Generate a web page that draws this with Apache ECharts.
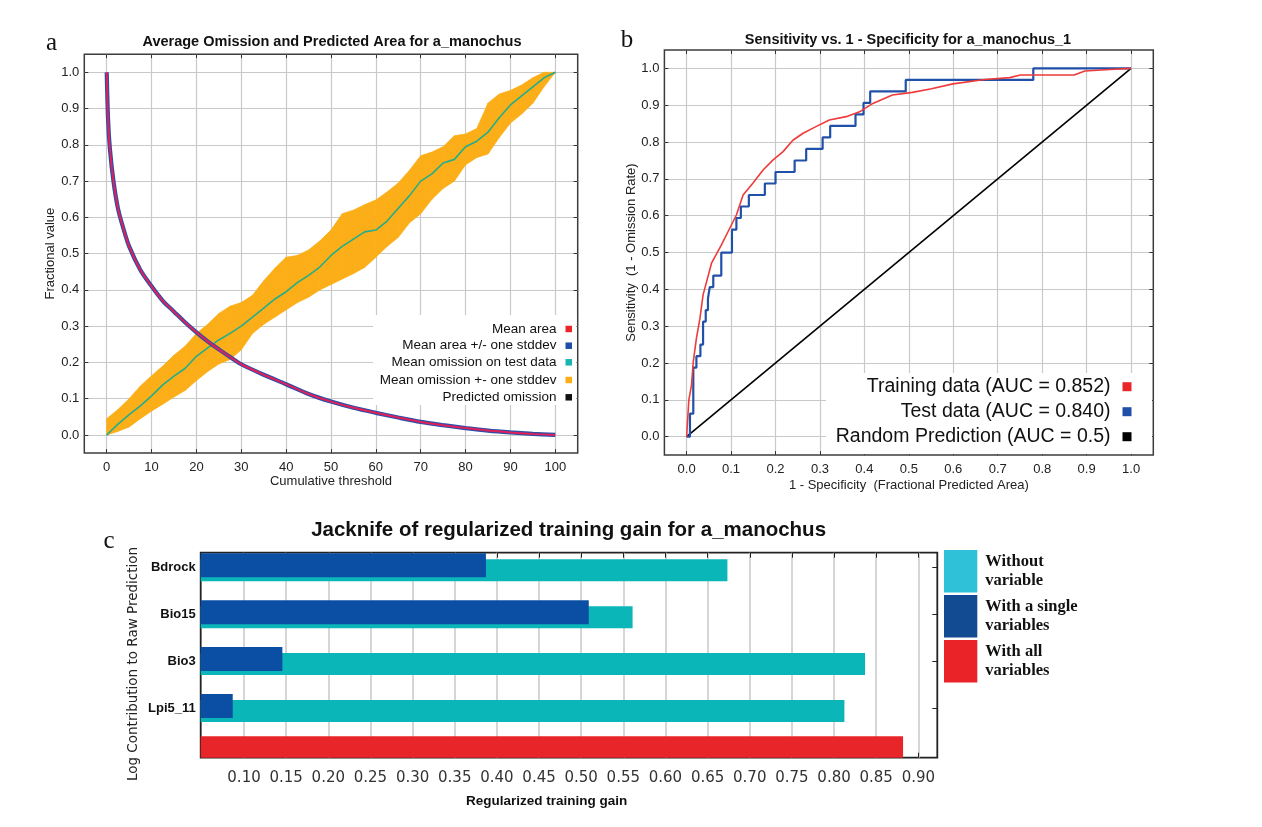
<!DOCTYPE html>
<html><head><meta charset="utf-8">
<script src="https://cdn.jsdelivr.net/npm/echarts@6/dist/echarts.min.js"></script>
<style>html,body{margin:0;padding:0;background:#fff}#c{width:1262px;height:827px}</style>
</head><body><div id="c"></div>
<script>
// ---------- Panel a : Average omission and predicted area ----------
const aThreshold = [0,2.5,5,7.5,10,12.5,15,17.5,20,22.5,25,27.5,30,32.5,35,37.5,40,42.5,45,47.5,50,52.5,55,57.5,60,62.5,65,67.5,70,72.5,75,77.5,80,82.5,85,87.5,90,92.5,95,97.5,100];
const aOmissionMean  = [0,0.03,0.056,0.08,0.108,0.138,0.162,0.184,0.217,0.24,0.262,0.28,0.30,0.325,0.35,0.375,0.395,0.42,0.44,0.463,0.495,0.52,0.54,0.56,0.565,0.59,0.625,0.66,0.70,0.72,0.75,0.76,0.795,0.81,0.835,0.875,0.91,0.935,0.96,0.985,1.0];
const aOmissionUpper = [0.045,0.07,0.10,0.135,0.163,0.19,0.22,0.245,0.28,0.305,0.335,0.355,0.365,0.385,0.425,0.46,0.49,0.495,0.51,0.535,0.565,0.61,0.62,0.635,0.648,0.67,0.695,0.73,0.77,0.78,0.795,0.825,0.83,0.845,0.915,0.94,0.95,0.965,0.985,1.0,1.0];
const aOmissionLower = [0,0.01,0.022,0.045,0.066,0.085,0.105,0.123,0.15,0.175,0.196,0.208,0.235,0.28,0.305,0.325,0.345,0.365,0.38,0.40,0.415,0.43,0.445,0.462,0.49,0.52,0.545,0.585,0.61,0.65,0.68,0.70,0.745,0.765,0.775,0.82,0.86,0.885,0.915,0.96,1.0];
const aAreaX = [0,0.3,0.7,1.5,2.5,3.7,5,7.5,10,12.5,15,17.5,20,22.5,25,27.5,30,35,40,45,50,55,60,65,70,75,80,85,90,95,100];
const aAreaY = [1.0,0.87,0.79,0.70,0.625,0.57,0.52,0.455,0.41,0.37,0.34,0.31,0.283,0.258,0.236,0.215,0.195,0.166,0.14,0.113,0.092,0.075,0.061,0.048,0.036,0.027,0.019,0.012,0.007,0.003,0.0];
const aPredX = [0,100];
const aPredY = [0,1];
const aXTicks = [0,10,20,30,40,50,60,70,80,90,100];
const aYTicks = [0,0.1,0.2,0.3,0.4,0.5,0.6,0.7,0.8,0.9,1.0];

// ---------- Panel b : ROC ----------
const bTrainX = [0,0.005,0.011,0.015,0.022,0.030,0.037,0.045,0.056,0.078,0.097,0.112,0.127,0.149,0.172,0.194,0.217,0.239,0.262,0.291,0.321,0.359,0.389,0.419,0.463,0.508,0.551,0.599,0.671,0.727,0.751,0.872,0.896,0.952,1.0];
const bTrainY = [0,0.1,0.14,0.204,0.267,0.321,0.385,0.421,0.471,0.52,0.566,0.602,0.656,0.688,0.724,0.751,0.774,0.805,0.824,0.842,0.86,0.869,0.882,0.905,0.928,0.935,0.945,0.958,0.970,0.975,0.982,0.982,0.993,0.997,1.0];
const bTestX = [0,0.0075,0.015,0.022,0.031,0.037,0.043,0.048,0.052,0.06,0.078,0.102,0.112,0.122,0.14,0.176,0.2,0.243,0.269,0.306,0.323,0.38,0.398,0.413,0.493,0.78,1.0];
const bTestY = [0,0.0625,0.1875,0.21875,0.25,0.3125,0.34375,0.375,0.40625,0.4375,0.5,0.5625,0.59375,0.625,0.65625,0.6875,0.71875,0.75,0.78125,0.8125,0.84375,0.875,0.90625,0.9375,0.96875,1.0,1.0];
const bRandX = [0,1];
const bRandY = [0,1];
const bTicks = [0,0.1,0.2,0.3,0.4,0.5,0.6,0.7,0.8,0.9,1.0];

// ---------- Panel c : Jackknife ----------
const cVariables = ['Bdrock','Bio15','Bio3','Lpi5_11'];
const cWithout   = [0.6735,0.561,0.8368,0.8123];
const cWithOnly  = [0.387,0.509,0.1455,0.0866];
const cWithAll   = [0.8819];
const cXTicks = [0.10,0.15,0.20,0.25,0.30,0.35,0.40,0.45,0.50,0.55,0.60,0.65,0.70,0.75,0.80,0.85,0.90];

const zip = (xs, ys) => xs.map((x, i) => [x, ys[i]]);
const SANS = 'Liberation Sans';
const GRID_C = '#c9c9c9';
const FRAME_C = '#3c3c3c';
const fmt1 = v => v.toFixed(1);

function valueAxis(gridIndex, min, max, ticks, opts) {
  return Object.assign({
    type: 'value', gridIndex, min, max,
    axisLine: {show: false, onZero: false},
    axisTick: {show: true, inside: true, length: 4, customValues: ticks, lineStyle: {color: '#333'}},
    axisLabel: {show: true, customValues: ticks, color: '#222', fontFamily: SANS, fontSize: 13},
    splitLine: {show: true, lineStyle: {color: GRID_C, width: 1.2}}
  }, opts || {});
}
function tickOnlyAxis(gridIndex, min, max, ticks, position) {
  return {
    type: 'value', gridIndex, min, max, position,
    axisLine: {show: false, onZero: false},
    axisTick: {show: true, inside: true, length: 4, customValues: ticks, lineStyle: {color: '#333'}},
    axisLabel: {show: false},
    splitLine: {show: false}
  };
}

const aLegendNames = ['Mean area','Mean area +/- one stddev','Mean omission on test data','Mean omission +- one stddev','Predicted omission'];
const aLegendColors = ['#e8262a','#1f4fa8','#19b3b0','#fbae17','#111111'];
const aLegendRows = [329, 345.7, 362.3, 380, 397.3];
const bLegendNames = ['Training data (AUC = 0.852)','Test data (AUC = 0.840)','Random Prediction (AUC = 0.5)'];
const bLegendColors = ['#e8262a','#1f4fa8','#000000'];
const bLegendRows = [386.7, 411.7, 436.7];

const legends = [];
aLegendNames.forEach((n, i) => legends.push({
  data: [{name: n, itemStyle: {color: aLegendColors[i]}}],
  right: 1262 - 572, top: aLegendRows[i] - 7, orient: 'horizontal', align: 'right',
  icon: 'rect', itemWidth: 6.5, itemHeight: 6.5, padding: 0, selectedMode: false,
  textStyle: {fontFamily: SANS, fontSize: 13.5, lineHeight: 14, color: '#111', padding: [0, 4, 0, 0]}
}));
bLegendNames.forEach((n, i) => legends.push({
  data: [{name: n, itemStyle: {color: bLegendColors[i]}}],
  right: 1262 - 1131.5, top: bLegendRows[i] - 10, orient: 'horizontal', align: 'right',
  icon: 'rect', itemWidth: 9, itemHeight: 9, padding: 0, selectedMode: false,
  textStyle: {fontFamily: SANS, fontSize: 19.5, lineHeight: 20, color: '#111', padding: [0, 7, 0, 0]}
}));
const cLegendText = {'Without variable': 'Without\nvariable', 'With a single variables': 'With a single\nvariables', 'With all variables': 'With all\nvariables'};
legends.push({
  data: [
    {name: 'Without variable', itemStyle: {color: '#2ec1d8'}},
    {name: 'With a single variables', itemStyle: {color: '#124b92'}},
    {name: 'With all variables', itemStyle: {color: '#ea2328'}}
  ],
  left: 944, top: 550, orient: 'vertical', align: 'left', icon: 'rect',
  itemWidth: 33.3, itemHeight: 42.6, itemGap: 2.4, padding: 0, selectedMode: false,
  formatter: n => cLegendText[n],
  textStyle: {fontFamily: 'Liberation Serif', fontWeight: 'bold', fontSize: 16.5, lineHeight: 19, color: '#111', padding: [0, 0, 0, 3]}
});

// band between lower and upper omission, drawn through the axes' scales
function bandRenderItem(params, api) {
  const i = params.dataIndex;
  if (i >= params.dataInsideLength - 1) return null;
  const x0 = api.value(0, i), lo0 = api.value(1, i), up0 = api.value(2, i);
  const x1 = api.value(0, i + 1), lo1 = api.value(1, i + 1), up1 = api.value(2, i + 1);
  const pts = [api.coord([x0, lo0]), api.coord([x0, up0]), api.coord([x1, up1]), api.coord([x1, lo1])];
  return {type: 'polygon', shape: {points: pts}, style: {fill: '#fbae17', stroke: '#fbae17', lineWidth: 0.8}};
}

const option = {
  animation: false,
  backgroundColor: '#fff',
  grid: [
    {left: 84.3, top: 54.2, width: 493.4, height: 398.9, show: true, borderColor: FRAME_C, borderWidth: 1.5},
    {left: 664.4, top: 50, width: 488.9, height: 405.1, show: true, borderColor: FRAME_C, borderWidth: 1.5},
    {left: 200.7, top: 552.7, width: 736.6, height: 205, show: true, borderColor: '#222', borderWidth: 1.8},
    {left: 200.7, top: 543.8, width: 736.6, height: 187.6, show: false},
    {left: 200.7, top: 736.3, width: 736.6, height: 21.4, show: false}
  ],
  xAxis: [
    valueAxis(0, -5, 105, aXTicks, {name: 'Cumulative threshold', nameLocation: 'middle', nameGap: 22,
      nameTextStyle: {fontFamily: SANS, fontSize: 13, color: '#222'}}),
    tickOnlyAxis(0, -5, 105, aXTicks, 'top'),
    valueAxis(1, -0.05, 1.05, bTicks, {axisLabel: {customValues: bTicks, formatter: fmt1, color: '#222', fontFamily: SANS, fontSize: 13},
      name: '1 - Specificity  (Fractional Predicted Area)', nameLocation: 'middle', nameGap: 24,
      nameTextStyle: {fontFamily: SANS, fontSize: 13, color: '#222'}}),
    tickOnlyAxis(1, -0.05, 1.05, bTicks, 'top'),
    {type: 'value', gridIndex: 2, min: 0.0486, max: 0.9225,
      axisLine: {show: false, onZero: false},
      axisTick: {show: true, inside: true, length: 5, customValues: cXTicks, lineStyle: {color: '#222'}},
      axisLabel: {customValues: cXTicks, formatter: v => v.toFixed(2), color: '#333', fontFamily: 'DejaVu Sans', fontSize: 15, margin: 13},
      splitLine: {show: true, lineStyle: {color: GRID_C, width: 1.5}}},
    {type: 'value', gridIndex: 2, min: 0.0486, max: 0.9225, position: 'top',
      axisLine: {show: false, onZero: false}, axisLabel: {show: false}, splitLine: {show: false},
      axisTick: {show: true, inside: true, length: 5, customValues: cXTicks, lineStyle: {color: '#222'}}},
    {type: 'value', gridIndex: 3, min: 0.0486, max: 0.9225, show: false},
    {type: 'value', gridIndex: 4, min: 0.0486, max: 0.9225, show: false}
  ],
  yAxis: [
    valueAxis(0, -0.05, 1.05, aYTicks, {axisLabel: {customValues: aYTicks, formatter: fmt1, color: '#222', fontFamily: SANS, fontSize: 13, margin: 5},
      name: 'Fractional value', nameLocation: 'middle', nameGap: 25, nameTextStyle: {fontFamily: SANS, fontSize: 13, color: '#222'}}),
    tickOnlyAxis(0, -0.05, 1.05, aYTicks, 'right'),
    valueAxis(1, -0.05, 1.05, bTicks, {axisLabel: {customValues: bTicks, formatter: fmt1, color: '#222', fontFamily: SANS, fontSize: 13, margin: 5},
      name: 'Sensitivity  (1 - Omission Rate)', nameLocation: 'middle', nameGap: 25, nameTextStyle: {fontFamily: SANS, fontSize: 13, color: '#222'}}),
    tickOnlyAxis(1, -0.05, 1.05, bTicks, 'right'),
    {type: 'value', gridIndex: 2, show: false, min: 0, max: 1},
    {type: 'category', gridIndex: 3, data: cVariables, inverse: true,
      axisLine: {show: false}, axisTick: {show: false},
      axisLabel: {color: '#111', fontFamily: SANS, fontWeight: 'bold', fontSize: 13, margin: 5},
      splitLine: {show: false}},
    {type: 'category', gridIndex: 3, data: cVariables, inverse: true, position: 'right',
      axisLine: {show: false}, axisLabel: {show: false},
      axisTick: {show: true, inside: true, alignWithLabel: true, length: 5, lineStyle: {color: '#222'}}},
    {type: 'category', gridIndex: 4, data: [''], show: false}
  ],
  legend: legends,
  graphic: [
    {type: 'rect', z: 1, shape: {x: 373, y: 315, width: 203.5, height: 90}, style: {fill: '#fff'}},
    {type: 'rect', z: 1, shape: {x: 826, y: 373, width: 326, height: 81}, style: {fill: '#fff'}},
    {type: 'text', x: 51.5, y: 43, style: {text: 'a', font: '25px "Liberation Serif"', fill: '#111', align: 'center', verticalAlign: 'middle'}},
    {type: 'text', x: 332, y: 42, style: {text: 'Average Omission and Predicted Area for a_manochus', font: 'bold 14.5px "Liberation Sans"', fill: '#111', align: 'center', verticalAlign: 'middle'}},
    {type: 'text', x: 627, y: 40, style: {text: 'b', font: '25px "Liberation Serif"', fill: '#111', align: 'center', verticalAlign: 'middle'}},
    {type: 'text', x: 908, y: 40, style: {text: 'Sensitivity vs. 1 - Specificity for a_manochus_1', font: 'bold 14.5px "Liberation Sans"', fill: '#111', align: 'center', verticalAlign: 'middle'}},
    {type: 'text', x: 109, y: 541, style: {text: 'c', font: '25px "Liberation Serif"', fill: '#111', align: 'center', verticalAlign: 'middle'}},
    {type: 'text', x: 568.6, y: 530, style: {text: 'Jacknife of regularized training gain for a_manochus', font: 'bold 20.5px "Liberation Sans"', fill: '#111', align: 'center', verticalAlign: 'middle'}},
    {type: 'text', x: 546.7, y: 801.7, style: {text: 'Regularized training gain', font: 'bold 13.5px "Liberation Sans"', fill: '#111', align: 'center', verticalAlign: 'middle'}},
    {type: 'text', x: 133, y: 664, rotation: Math.PI / 2, style: {text: 'Log Contribution to Raw Prediction', font: '13.5px "DejaVu Sans"', fill: '#222', align: 'center', verticalAlign: 'middle'}}
  ],
  series: [
    // panel a
    {name: 'Predicted omission', type: 'line', xAxisIndex: 0, yAxisIndex: 0, data: zip(aPredX, aPredY), symbol: 'none',
      lineStyle: {color: '#111', width: 1.2}, itemStyle: {color: '#111'}, z: 2},
    {name: 'Mean omission +- one stddev', type: 'custom', xAxisIndex: 0, yAxisIndex: 0,
      data: aThreshold.map((x, i) => [x, aOmissionLower[i], aOmissionUpper[i]]),
      encode: {x: 0, y: [1, 2]}, renderItem: bandRenderItem, itemStyle: {color: '#fbae17'}, z: 3},
    {name: 'Mean omission on test data', type: 'line', xAxisIndex: 0, yAxisIndex: 0, data: zip(aThreshold, aOmissionMean),
      symbol: 'none', lineStyle: {color: '#22ae8c', width: 1.6}, itemStyle: {color: '#19b3b0'}, z: 4},
    {name: 'Mean area +/- one stddev', type: 'line', xAxisIndex: 0, yAxisIndex: 0, data: zip(aAreaX, aAreaY), smooth: 0.3,
      symbol: 'none', lineStyle: {color: '#2a4fa8', width: 4.2}, itemStyle: {color: '#1f4fa8'}, z: 5},
    {name: 'Mean area', type: 'line', xAxisIndex: 0, yAxisIndex: 0, data: zip(aAreaX, aAreaY), smooth: 0.3,
      symbol: 'none', lineStyle: {color: '#e0205a', width: 2}, itemStyle: {color: '#e8262a'}, z: 6},
    // panel b
    {name: 'Random Prediction (AUC = 0.5)', type: 'line', xAxisIndex: 2, yAxisIndex: 2, data: zip(bRandX, bRandY), symbol: 'none',
      lineStyle: {color: '#000', width: 1.6}, itemStyle: {color: '#000'}, z: 3},
    {name: 'Test data (AUC = 0.840)', type: 'line', xAxisIndex: 2, yAxisIndex: 2, data: zip(bTestX, bTestY), step: 'end', symbol: 'none',
      lineStyle: {color: '#2150a8', width: 2.2}, itemStyle: {color: '#1f4fa8'}, z: 4},
    {name: 'Training data (AUC = 0.852)', type: 'line', xAxisIndex: 2, yAxisIndex: 2, data: zip(bTrainX, bTrainY), symbol: 'none',
      lineStyle: {color: '#ee3a3a', width: 1.6}, itemStyle: {color: '#e8262a'}, z: 5},
    // panel c
    {name: 'With a single variables', type: 'bar', xAxisIndex: 6, yAxisIndex: 5, data: cWithOnly, barWidth: 24, barGap: '-75%',
      itemStyle: {color: '#0a4fa3'}, z: 3},
    {name: 'Without variable', type: 'bar', xAxisIndex: 6, yAxisIndex: 5, data: cWithout, barWidth: 22, barGap: '-75%',
      itemStyle: {color: '#0bb6b8'}, z: 2},
    {name: 'With all variables', type: 'bar', xAxisIndex: 7, yAxisIndex: 7, data: cWithAll, barWidth: 21.4,
      itemStyle: {color: '#e8262a'}, z: 2}
  ]
};
const chart = echarts.init(document.getElementById('c'), null, {renderer: 'canvas'});
chart.setOption(option);
</script>
</body></html>
